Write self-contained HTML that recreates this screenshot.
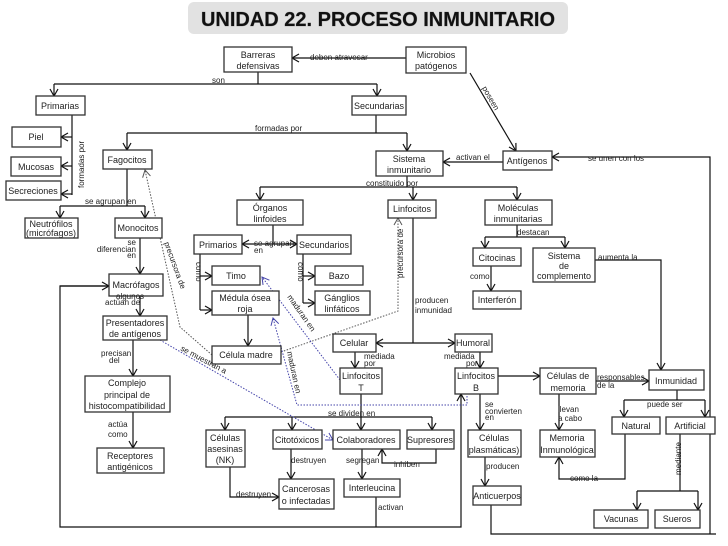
<!DOCTYPE html>
<html><head><meta charset="utf-8"><style>
body{margin:0;background:#fff;}
svg{display:block;font-family:"Liberation Sans",sans-serif;}
.b{fill:#fff;stroke:#333;stroke-width:1.3}
.t{font-size:9px;fill:#222;text-anchor:middle}
.l{font-size:8px;fill:#222}
.c{fill:none;stroke:#111;stroke-width:1.2}
.d{fill:none;stroke:#555;stroke-width:1;stroke-dasharray:1.5,1.5}
.db{fill:none;stroke:#44a;stroke-width:1;stroke-dasharray:1.5,1.5}
</style></head><body>
<svg width="728" height="546" viewBox="0 0 728 546">
<defs>
<marker id="a" markerWidth="10" markerHeight="10" refX="8" refY="5" orient="auto" markerUnits="userSpaceOnUse"><path d="M1,1 L8,5 L1,9" fill="none" stroke="#111" stroke-width="1.2"/></marker>
<marker id="ab" markerWidth="10" markerHeight="10" refX="8" refY="5" orient="auto" markerUnits="userSpaceOnUse"><path d="M1,1 L8,5 L1,9" fill="none" stroke="#44a" stroke-width="1"/></marker>
<marker id="ag" markerWidth="10" markerHeight="10" refX="8" refY="5" orient="auto" markerUnits="userSpaceOnUse"><path d="M1,1 L8,5 L1,9" fill="none" stroke="#555" stroke-width="1"/></marker>
</defs>
<rect x="188" y="2" width="380" height="32" rx="6" fill="#e2e2e2"/>
<text x="378" y="26" text-anchor="middle" font-size="20" font-weight="bold" fill="#111" style="paint-order:stroke" stroke="#999" stroke-width="0.6">UNIDAD 22. PROCESO INMUNITARIO</text>

<g class="c">
<path d="M406,58 H292" marker-end="url(#a)"/>
<path d="M258,72 V84 M54,84 H377"/><path d="M54,84 V96" marker-end="url(#a)"/><path d="M377,84 V96" marker-end="url(#a)"/>
<path d="M470,73 L516,151" marker-end="url(#a)"/>
<path d="M72,115 V195"/><path d="M72,137 H61" marker-end="url(#a)"/><path d="M72,166 H61" marker-end="url(#a)"/><path d="M72,194 H61" marker-end="url(#a)"/>
<path d="M376,115 V133 H127 M376,133 H407"/><path d="M127,133 V150" marker-end="url(#a)"/><path d="M407,133 V151" marker-end="url(#a)"/>
<path d="M503,162 H443" marker-end="url(#a)"/>
<path d="M407,176 V187 M260,187 H517"/><path d="M260,187 V200" marker-end="url(#a)"/><path d="M413,187 V200" marker-end="url(#a)"/><path d="M517,187 V200" marker-end="url(#a)"/>
<path d="M127,169 V206 M60,206 H145"/><path d="M60,206 V218" marker-end="url(#a)"/><path d="M145,206 V218" marker-end="url(#a)"/>
<path d="M140,238 V274" marker-end="url(#a)"/>
<path d="M140,296 V316" marker-end="url(#a)"/>
<path d="M133,340 V376" marker-end="url(#a)"/>
<path d="M133,412 V448" marker-end="url(#a)"/>
<path d="M273,225 V244"/><path d="M273,244 H242" marker-end="url(#a)"/><path d="M273,244 H297" marker-end="url(#a)"/>
<path d="M200,254 V310"/><path d="M200,276 H212" marker-end="url(#a)"/><path d="M200,310 H212" marker-end="url(#a)"/>
<path d="M303,254 V303"/><path d="M303,276 H315" marker-end="url(#a)"/><path d="M303,303 H315" marker-end="url(#a)"/>
<path d="M248,315 V346" marker-end="url(#a)"/>
<path d="M491,266 V291" marker-end="url(#a)"/>
<path d="M517,225 V237 M485,237 H565"/><path d="M485,237 V248" marker-end="url(#a)"/><path d="M565,237 V248" marker-end="url(#a)"/>
<path d="M595,260 H661 V370" marker-end="url(#a)"/>
<path d="M413,218 V343"/><path d="M413,343 H376" marker-end="url(#a)"/><path d="M413,343 H455" marker-end="url(#a)"/>
<path d="M355,352 V368" marker-end="url(#a)"/>
<path d="M480,352 V368" marker-end="url(#a)"/>
<path d="M498,376 H540" marker-end="url(#a)"/>
<path d="M596,381 H649" marker-end="url(#a)"/>
<path d="M480,394 V430" marker-end="url(#a)"/>
<path d="M559,394 V430" marker-end="url(#a)"/>
<path d="M677,390 V400 M624,400 H705"/><path d="M624,400 V417" marker-end="url(#a)"/><path d="M705,400 V417" marker-end="url(#a)"/>
<path d="M625,434 V479 H559 V457" marker-end="url(#a)"/>
<path d="M680,434 V491 M637,491 H698"/><path d="M637,491 V510" marker-end="url(#a)"/><path d="M698,491 V510" marker-end="url(#a)"/>
<path d="M485,457 V486" marker-end="url(#a)"/>
<path d="M361,394 V417 M225,417 H432"/><path d="M225,417 V430" marker-end="url(#a)"/><path d="M292,417 V430" marker-end="url(#a)"/><path d="M361,417 V430" marker-end="url(#a)"/><path d="M432,417 V430" marker-end="url(#a)"/>
<path d="M291,449 V479" marker-end="url(#a)"/>
<path d="M230,467 V497 H279" marker-end="url(#a)"/>
<path d="M362,449 V479" marker-end="url(#a)"/>
<path d="M436,449 V463 H382 V449" marker-end="url(#a)"/>
<path d="M376,497 V527"/>
<path d="M109,286 H60 V527 H461 V394" marker-end="url(#a)"/>
<path d="M60,286 H109" marker-end="url(#a)"/>
<path d="M491,505 V534 H716 M710,534 V157 H552" marker-end="url(#a)"/>
</g>
<g>
<path class="d" d="M212,355 L180,327 L145,170" marker-end="url(#ag)"/>
<path class="d" d="M281,352 L398,311 V218" marker-end="url(#ag)"/>
<path class="db" d="M340,380 L262,277" marker-end="url(#ab)"/>
<path class="db" d="M467,396 V405 H297 L273,318" marker-end="url(#ab)"/>
<path class="db" d="M160,340 L333,440" marker-end="url(#ab)"/>
</g>

<g class="b">
<rect x="224" y="47" width="68" height="25"/><rect x="406" y="47" width="60" height="26"/>
<rect x="36" y="96" width="49" height="19"/><rect x="352" y="96" width="54" height="19"/>
<rect x="12" y="127" width="49" height="20"/><rect x="11" y="157" width="50" height="19"/><rect x="6" y="181" width="55" height="19"/>
<rect x="103" y="150" width="49" height="19"/><rect x="376" y="151" width="67" height="25"/><rect x="503" y="151" width="49" height="19"/>
<rect x="237" y="200" width="66" height="25"/><rect x="388" y="200" width="48" height="18"/><rect x="485" y="200" width="67" height="25"/>
<rect x="25" y="218" width="53" height="20"/><rect x="115" y="218" width="47" height="20"/>
<rect x="194" y="235" width="48" height="19"/><rect x="297" y="235" width="54" height="19"/>
<rect x="473" y="248" width="48" height="18"/><rect x="533" y="248" width="62" height="34"/>
<rect x="212" y="266" width="48" height="19"/><rect x="315" y="266" width="48" height="19"/>
<rect x="109" y="274" width="54" height="22"/><rect x="212" y="291" width="67" height="24"/><rect x="315" y="291" width="55" height="24"/>
<rect x="473" y="291" width="48" height="18"/><rect x="103" y="316" width="64" height="24"/><rect x="212" y="346" width="69" height="18"/>
<rect x="333" y="334" width="43" height="18"/><rect x="455" y="334" width="37" height="18"/>
<rect x="340" y="368" width="42" height="26"/><rect x="455" y="368" width="43" height="26"/><rect x="540" y="368" width="56" height="26"/>
<rect x="649" y="370" width="55" height="20"/><rect x="85" y="376" width="85" height="36"/>
<rect x="612" y="417" width="48" height="17"/><rect x="666" y="417" width="49" height="17"/>
<rect x="206" y="430" width="39" height="37"/><rect x="273" y="430" width="49" height="19"/><rect x="333" y="430" width="67" height="19"/><rect x="407" y="430" width="47" height="19"/>
<rect x="468" y="430" width="53" height="27"/><rect x="540" y="430" width="55" height="27"/>
<rect x="97" y="448" width="67" height="25"/><rect x="279" y="479" width="55" height="30"/><rect x="344" y="479" width="56" height="18"/>
<rect x="473" y="486" width="48" height="19"/><rect x="594" y="510" width="54" height="18"/><rect x="655" y="510" width="45" height="18"/>
</g>
<g class="t">
<text x="258" y="58">Barreras</text><text x="258" y="69">defensivas</text>
<text x="436" y="58">Microbios</text><text x="436" y="69">patógenos</text>
<text x="60" y="109">Primarias</text><text x="379" y="109">Secundarias</text>
<text x="36" y="140">Piel</text><text x="36" y="170">Mucosas</text><text x="33" y="194">Secreciones</text>
<text x="127" y="163">Fagocitos</text><text x="409" y="162">Sistema</text><text x="409" y="173">inmunitario</text><text x="527" y="164">Antígenos</text>
<text x="270" y="211">Órganos</text><text x="270" y="222">linfoides</text><text x="412" y="212">Linfocitos</text><text x="518" y="211">Moléculas</text><text x="518" y="222">inmunitarias</text>
<text x="51" y="227">Neutrófilos</text><text x="51" y="236">(micrófagos)</text><text x="138" y="231">Monocitos</text>
<text x="218" y="248">Primarios</text><text x="324" y="248">Secundarios</text>
<text x="497" y="261">Citocinas</text><text x="564" y="259">Sistema</text><text x="564" y="269">de</text><text x="564" y="279">complemento</text>
<text x="236" y="279">Timo</text><text x="339" y="279">Bazo</text>
<text x="136" y="288">Macrófagos</text><text x="245" y="301">Médula ósea</text><text x="245" y="312">roja</text>
<text x="342" y="301">Gánglios</text><text x="342" y="312">linfáticos</text><text x="497" y="303">Interferón</text>
<text x="135" y="326">Presentadores</text><text x="135" y="337">de antígenos</text><text x="246" y="358">Célula madre</text>
<text x="354" y="346">Celular</text><text x="473" y="346">Humoral</text>
<text x="361" y="379">Linfocitos</text><text x="361" y="391">T</text><text x="476" y="379">Linfocitos</text><text x="476" y="391">B</text>
<text x="568" y="379">Células de</text><text x="568" y="391">memoria</text><text x="676" y="384">Inmunidad</text>
<text x="127" y="386">Complejo</text><text x="127" y="398">principal de</text><text x="127" y="409">histocompatibilidad</text>
<text x="636" y="429">Natural</text><text x="690" y="429">Artificial</text>
<text x="225" y="441">Células</text><text x="225" y="452">asesinas</text><text x="225" y="463">(NK)</text>
<text x="297" y="443">Citotóxicos</text><text x="366" y="443">Colaboradores</text><text x="430" y="443">Supresores</text>
<text x="494" y="441">Células</text><text x="494" y="453">plasmáticas)</text><text x="567" y="441">Memoria</text><text x="567" y="453">Inmunológica</text>
<text x="130" y="459">Receptores</text><text x="130" y="470">antigénicos</text>
<text x="306" y="492">Cancerosas</text><text x="306" y="504">o infectadas</text><text x="372" y="491">Interleucina</text>
<text x="497" y="499">Anticuerpos</text><text x="621" y="522">Vacunas</text><text x="677" y="522">Sueros</text>
</g>
<g class="l">
<text x="310" y="60">deben atravesar</text><text x="212" y="83">son</text>
<text x="475" y="90" transform="rotate(60 480 95)">poseen</text>
<text x="84" y="188" transform="rotate(-90 84 188)">formadas por</text>
<text x="255" y="131">formadas por</text><text x="456" y="160">activan el</text><text x="588" y="161">se unen con los</text>
<text x="366" y="186">constituido  por</text><text x="85" y="204">se agrupan en</text>
<text x="136" y="245" text-anchor="end">se</text><text x="136" y="252" text-anchor="end">diferencian</text><text x="136" y="258" text-anchor="end">en</text>
<text x="254" y="246">se agrupan</text><text x="254" y="253">en</text>
<text x="196" y="262" transform="rotate(90 196 262)">como</text><text x="298" y="262" transform="rotate(90 298 262)">como</text>
<text x="164" y="243" transform="rotate(70 164 243)">precursora de</text>
<text x="403" y="278" transform="rotate(-90 403 278)">precursora de</text>
<text x="517" y="235">destacan</text><text x="598" y="260">aumenta la</text><text x="470" y="279">como</text>
<text x="116" y="299">algunos</text><text x="105" y="305">actúan de</text>
<text x="415" y="303">producen</text><text x="415" y="313">inmunidad</text>
<text x="287" y="297" transform="rotate(55 287 297)">maduran en</text>
<text x="287" y="352" transform="rotate(78 287 352)">maduran en</text>
<text x="180" y="350" transform="rotate(28 180 350)">se muestran a</text>
<text x="101" y="356">precisan</text><text x="109" y="363">del</text>
<text x="364" y="359">mediada</text><text x="364" y="366">por</text><text x="444" y="359">mediada</text><text x="466" y="366">por</text>
<text x="597" y="380">responsables</text><text x="597" y="388">de la</text>
<text x="485" y="407">se</text><text x="485" y="414">convierten</text><text x="485" y="420">en</text>
<text x="558" y="412">llevan</text><text x="558" y="421">a cabo</text><text x="647" y="407">puede ser</text>
<text x="328" y="416">se dividen en</text><text x="108" y="427">actúa</text><text x="108" y="437">como</text>
<text x="291" y="463">destruyen</text><text x="346" y="463">segregan</text><text x="394" y="467">inhiben</text>
<text x="486" y="469">producen</text><text x="570" y="481">como la</text>
<text x="681" y="475" transform="rotate(-90 681 475)">mediante</text>
<text x="236" y="497">destruyen</text><text x="378" y="510">activan</text>
</g>
</svg>
</body></html>
